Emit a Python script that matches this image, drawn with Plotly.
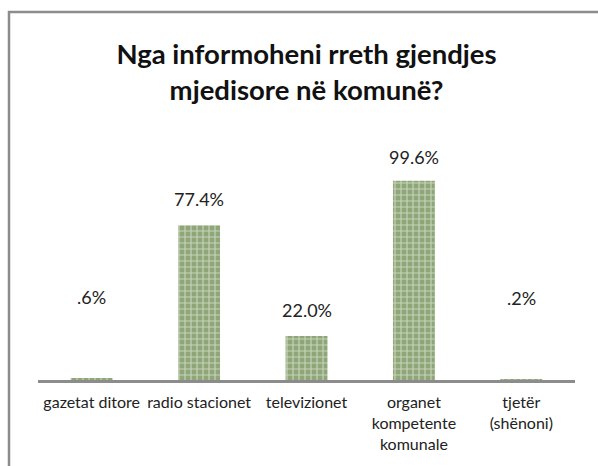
import plotly.graph_objects as go

categories = ["gazetat ditore", "radio stacionet", "televizionet",
              "organet<br>kompetente<br>komunale", "tjetër<br>(shënoni)"]
values = [0.6, 77.4, 22.0, 99.6, 0.2]
value_labels = [".6%", "77.4%", "22.0%", "99.6%", ".2%"]
label_shift_px = [82, 26, 26, 24, 82]

FONT = "Lato"
GRAY = "#8c8c8c"

W, H = 598, 466
ml, mr, mt, mb = 38, 23, 180, 86
pw, ph = W - ml - mr, H - mt - mb


def px_x(x):
    return (x - ml) / pw


def px_y(y):
    return (H - mb - y) / ph


fig = go.Figure()
fig.add_trace(go.Bar(
    x=categories, y=values, width=0.39,
    marker=dict(color="#8ea678", line=dict(width=0),
                pattern=dict(shape="+", fgcolor="#ffffff", bgcolor="#8ea678",
                             size=6, solidity=0.35)),
    hoverinfo="skip", showlegend=False,
))

for c, v, t, s in zip(categories, values, value_labels, label_shift_px):
    fig.add_annotation(x=c, y=v, text=t, showarrow=False, yanchor="middle",
                       yshift=s, font=dict(family=FONT, size=18, color="#222222"))

# chart frame (left and top edges visible)
fig.add_shape(type="path", xref="paper", yref="paper",
              path=f"M {px_x(9)},{px_y(470)} L {px_x(9)},{px_y(12)} L {px_x(598)},{px_y(12)}",
              line=dict(color=GRAY, width=2.5), layer="above")

fig.update_layout(
    width=W, height=H,
    margin=dict(l=ml, r=mr, t=mt, b=mb, autoexpand=False),
    paper_bgcolor="white", plot_bgcolor="white",
    title=dict(text="Nga informoheni rreth gjendjes<br>mjedisore në komunë?",
               x=0.5, xref="paper", xanchor="center",
               y=1 - 64 / H, yref="container", yanchor="top",
               font=dict(family=FONT, size=27.5, color="#111111", weight="bold")),
    xaxis=dict(showline=True, linecolor=GRAY, linewidth=2.5, ticks="",
               tickfont=dict(family=FONT, size=16, color="#222222"),
               ticklabelstandoff=6,
               showgrid=False, fixedrange=True, automargin=False),
    yaxis=dict(range=[0, 100], visible=False, showgrid=False, fixedrange=True),
    bargap=0.61,
)

fig.write_html("out.html", config={"displayModeBar": False},
               post_script="document.body.style.margin='0px';")
